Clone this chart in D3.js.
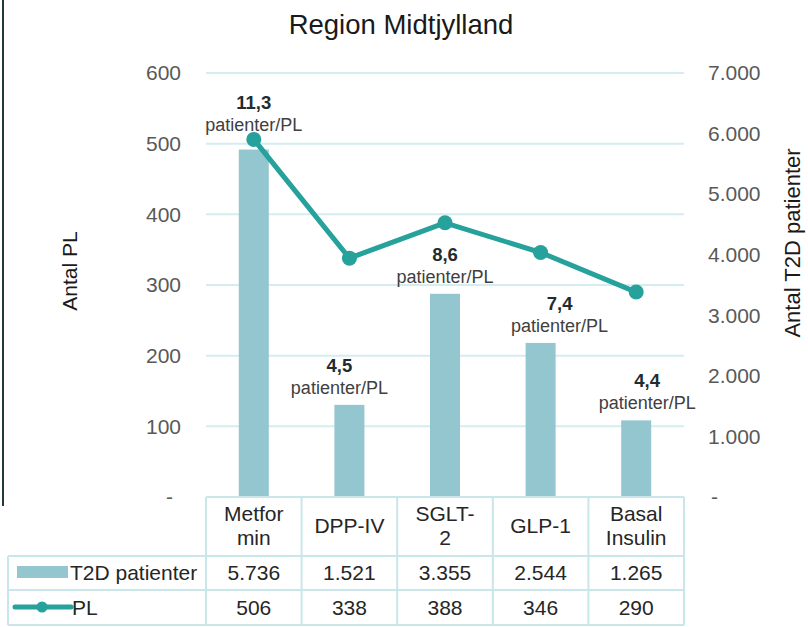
<!DOCTYPE html>
<html><head><meta charset="utf-8">
<script src="https://cdn.jsdelivr.net/npm/d3@7"></script>
<style>body{margin:0;background:#fff}svg{display:block;font-family:"Liberation Sans",Arial,sans-serif}</style>
</head><body><svg id="c" width="808" height="627"></svg>
<script>
// ---- data ----
const categories = ["Metformin", "DPP-IV", "SGLT-2", "GLP-1", "Basal Insulin"];
const headerLines = [["Metfor", "min"], ["DPP-IV"], ["SGLT-", "2"], ["GLP-1"], ["Basal", "Insulin"]];
const t2dPatients = [5736, 1521, 3355, 2544, 1265];
const plCounts = [506, 338, 388, 346, 290];
const ratioLabels = ["11,3", "4,5", "8,6", "7,4", "4,4"];
const ratioUnit = "patienter/PL";
const leftTicks = [0, 100, 200, 300, 400, 500, 600];
const rightTicks = [0, 1000, 2000, 3000, 4000, 5000, 6000, 7000];
const seriesNames = ["T2D patienter", "PL"];
const title = "Region Midtjylland";
const leftTitle = "Antal PL";
const rightTitle = "Antal T2D patienter";

// ---- layout / style ----
const labelNudge = [0, -10, 0, 19, 11];
const L = 206, R = 684, T = 73, B = 497;
const barColor = "#93c6cf", lineColor = "#26a19b", gridColor = "#d4edf1", tableColor = "#c9e6ea";
const textDark = "#1a1a1a", tickColor = "#595959";

const loc = d3.formatLocale({decimal: ",", thousands: ".", grouping: [3], currency: ["", ""]});
const fmt = v => v === 0 ? "-" : loc.format(",")(v);

const svg = d3.select("#c");
const x = d3.scaleBand().domain(categories).range([L, R]);
const yL = d3.scaleLinear().domain([0, 600]).range([B, T]);
const yR = d3.scaleLinear().domain([0, 7000]).range([B, T]);
const cx = c => x(c) + x.bandwidth() / 2;

// left border line
svg.append("line").attr("x1", 3).attr("x2", 3).attr("y1", 0).attr("y2", 506)
  .attr("stroke", "#1e3a3f").attr("stroke-width", 2);

// title
svg.append("text").attr("x", 401).attr("y", 34).attr("text-anchor", "middle")
  .attr("font-size", 27.5).attr("fill", textDark).text(title);

// gridlines
svg.append("g").selectAll("line").data(leftTicks.filter(d => d > 0)).join("line")
  .attr("x1", L).attr("x2", R).attr("y1", d => yL(d)).attr("y2", d => yL(d))
  .attr("stroke", gridColor).attr("stroke-width", 2);

// axes
const axL = svg.append("g").attr("transform", `translate(181,0)`)
  .call(d3.axisLeft(yL).tickValues(leftTicks).tickSize(0).tickPadding(0).tickFormat(fmt));
const axR = svg.append("g").attr("transform", `translate(708,0)`)
  .call(d3.axisRight(yR).tickValues(rightTicks).tickSize(0).tickPadding(0).tickFormat(fmt));
[axL, axR].forEach(a => {
  a.select(".domain").remove();
  a.selectAll("text").attr("font-size", 21).attr("fill", tickColor).attr("font-family", "Liberation Sans, Arial, sans-serif");
});
axL.selectAll(".tick text").filter(d => d === 0).attr("x", -8);
axR.selectAll(".tick text").filter(d => d === 0).attr("x", 3);

// axis titles
svg.append("text").attr("transform", "translate(77,271) rotate(-90)").attr("text-anchor", "middle")
  .attr("font-size", 21).attr("fill", textDark).text(leftTitle);
svg.append("text").attr("transform", "translate(800,243) rotate(-90)").attr("text-anchor", "middle")
  .attr("font-size", 22).attr("fill", textDark).text(rightTitle);

// bars
const bw = 30;
svg.append("g").selectAll("rect").data(categories).join("rect")
  .attr("x", c => cx(c) - bw / 2).attr("width", bw)
  .attr("y", (c, i) => yR(t2dPatients[i])).attr("height", (c, i) => B - yR(t2dPatients[i]))
  .attr("fill", barColor);

// line
const line = d3.line().x(d => cx(d.c)).y(d => yL(d.v));
const pts = categories.map((c, i) => ({c, v: plCounts[i]}));
svg.append("path").datum(pts).attr("d", line).attr("fill", "none")
  .attr("stroke", lineColor).attr("stroke-width", 5).attr("stroke-linejoin", "round");
svg.append("g").selectAll("circle").data(pts).join("circle")
  .attr("cx", d => cx(d.c)).attr("cy", d => yL(d.v)).attr("r", 7.5).attr("fill", lineColor);

// data labels
const lbl = svg.append("g").attr("text-anchor", "middle");
categories.forEach((c, i) => {
  const barTop = yR(t2dPatients[i]);
  const py = yL(plCounts[i]);
  const anchor = Math.abs(py - barTop) < 25 ? Math.min(barTop, py + 3) : barTop;
  const lx = cx(c) + labelNudge[i];
  lbl.append("text").attr("x", lx).attr("y", anchor - 33).attr("font-size", 18.5)
    .attr("font-weight", "bold").attr("fill", "#1f2d2f").text(ratioLabels[i]);
  lbl.append("text").attr("x", lx).attr("y", anchor - 11).attr("font-size", 18)
    .attr("fill", "#404040").text(ratioUnit);
});

// data table
const tb = svg.append("g").attr("stroke", tableColor).attr("stroke-width", 2);
const rowY = [497, 556, 590, 625];
tb.append("line").attr("x1", L).attr("x2", R).attr("y1", rowY[0]).attr("y2", rowY[0]);
rowY.slice(1).forEach(y => tb.append("line").attr("x1", 8).attr("x2", R).attr("y1", y).attr("y2", y));
const colX = categories.map(c => x(c)).concat([R]);
colX.forEach(xx => tb.append("line").attr("x1", xx).attr("x2", xx).attr("y1", rowY[0]).attr("y2", rowY[3]));
tb.append("line").attr("x1", 8).attr("x2", 8).attr("y1", rowY[1]).attr("y2", rowY[3]);

const tt = svg.append("g").attr("font-size", 21).attr("fill", "#262626").attr("text-anchor", "middle");
categories.forEach((c, i) => {
  const lines = headerLines[i];
  const y0 = lines.length === 1 ? 533 : 521;
  lines.forEach((s, k) => tt.append("text").attr("x", cx(c)).attr("y", y0 + k * 24).text(s));
  tt.append("text").attr("x", cx(c)).attr("y", 580).text(fmt(t2dPatients[i]));
  tt.append("text").attr("x", cx(c)).attr("y", 615).text(fmt(plCounts[i]));
});

// legend keys
svg.append("rect").attr("x", 17).attr("y", 566).attr("width", 51).attr("height", 12).attr("fill", barColor);
svg.append("line").attr("x1", 15).attr("x2", 71).attr("y1", 607).attr("y2", 607)
  .attr("stroke", lineColor).attr("stroke-width", 5).attr("stroke-linecap", "round");
svg.append("circle").attr("cx", 42).attr("cy", 607).attr("r", 5.5).attr("fill", lineColor);
svg.append("text").attr("x", 70).attr("y", 580).attr("font-size", 21).attr("fill", "#262626").text(seriesNames[0]);
svg.append("text").attr("x", 72).attr("y", 615).attr("font-size", 21).attr("fill", "#262626").text(seriesNames[1]);
</script></body></html>
